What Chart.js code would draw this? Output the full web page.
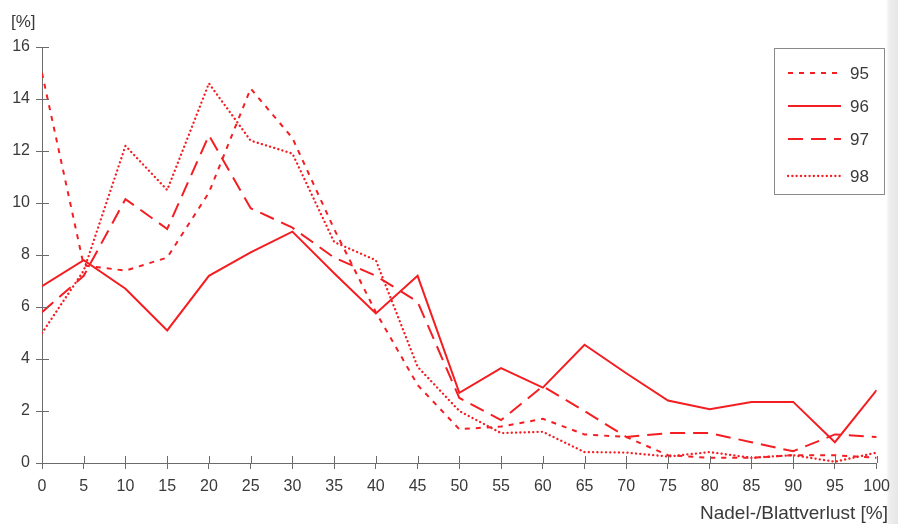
<!DOCTYPE html>
<html>
<head>
<meta charset="utf-8">
<script src="https://cdn.jsdelivr.net/npm/chart.js@4.4.1/dist/chart.umd.min.js"></script>
<style>
  html, body { margin: 0; padding: 0; background: #fff; }
  #wrap { position: relative; width: 898px; height: 524px;
          background: linear-gradient(to right, #fff 0, #fff 886px, #efefef 889px, #e6e6e6 898px); }
  canvas { display: block; }
</style>
</head>
<body>
<div id="wrap"><canvas id="c" width="898" height="524"></canvas></div>
<script>
// Nadel-/Blattverlust classes [%]
const categories = [0, 5, 10, 15, 20, 25, 30, 35, 40, 45, 50, 55, 60, 65, 70, 75, 80, 85, 90, 95, 100];
const seriesNames = ['95', '96', '97', '98'];
const s95 = [15.0, 7.6, 7.4, 7.9, 10.4, 14.4, 12.5, 9.0, 5.8, 3.0, 1.3, 1.4, 1.7, 1.1, 1.0, 0.3, 0.2, 0.2, 0.3, 0.3, 0.2];
const s96 = [6.8, 7.8, 6.7, 5.1, 7.2, 8.1, 8.9, 7.3, 5.75, 7.2, 2.7, 3.65, 2.9, 4.55, 3.45, 2.4, 2.07, 2.35, 2.35, 0.8, 2.8];
const s97 = [5.8, 7.2, 10.15, 9.0, 12.6, 9.8, 9.05, 7.9, 7.2, 6.2, 2.5, 1.65, 2.95, 2.0, 1.0, 1.15, 1.15, 0.8, 0.45, 1.1, 1.0];
const s98 = [5.0, 7.4, 12.2, 10.5, 14.6, 12.4, 11.9, 8.5, 7.8, 3.7, 2.0, 1.15, 1.2, 0.42, 0.4, 0.25, 0.42, 0.2, 0.3, 0.05, 0.4];
const yTicks = [0, 2, 4, 6, 8, 10, 12, 14, 16];
const xTicks = [0, 5, 10, 15, 20, 25, 30, 35, 40, 45, 50, 55, 60, 65, 70, 75, 80, 85, 90, 95, 100];
const yUnit = '[%]';
const xTitle = 'Nadel-/Blattverlust [%]';

const RED = 'rgb(244,30,34)';
const AXIS = '#6b6b6b';
const TEXT = '#3a3a3a';
const FONT = '"Liberation Sans", Arial, sans-serif';
const dashes = [[5, 6], [], [15, 8], [0.1, 4.2]];
const caps = ['butt', 'butt', 'butt', 'round'];
const allSeries = [s95, s96, s97, s98];

const datasets = allSeries.map((s, i) => ({
  label: seriesNames[i],
  data: categories.map((c, k) => ({ x: c, y: s[k] })),
  borderColor: RED,
  borderWidth: i === 3 ? 2.3 : 2,
  borderDash: dashes[i],
  borderCapStyle: caps[i],
  pointRadius: 0,
  tension: 0,
  fill: false
}));

const decor = {
  id: 'decor',
  afterDraw(chart) {
    const ctx = chart.ctx;
    const xs = chart.scales.x, ys = chart.scales.y;
    const ca = chart.chartArea;
    ctx.save();
    // inner halves of tick marks (crossing the axes)
    ctx.strokeStyle = AXIS; ctx.lineWidth = 1;
    ctx.beginPath();
    yTicks.forEach(v => { const y = Math.round(ys.getPixelForValue(v)) + 0.5; ctx.moveTo(ca.left, y); ctx.lineTo(ca.left + 7, y); });
    xTicks.forEach(v => { const x = Math.round(xs.getPixelForValue(v)) + 0.5; ctx.moveTo(x, ca.bottom); ctx.lineTo(x, ca.bottom - 7); });
    ctx.stroke();
    // unit label
    ctx.fillStyle = TEXT;
    ctx.font = '17px ' + FONT;
    ctx.textBaseline = 'middle'; ctx.textAlign = 'left';
    ctx.fillText(yUnit, 11, 22);
    // x title
    ctx.font = '19px ' + FONT;
    ctx.fillText(xTitle, 700, 514);
    // legend
    ctx.strokeStyle = '#8a8a8a'; ctx.lineWidth = 1;
    ctx.strokeRect(774.5, 48.5, 110, 146);
    const ly = [73, 106, 139, 176];
    chart.data.datasets.forEach((d, i) => {
      ctx.strokeStyle = d.borderColor; ctx.lineWidth = d.borderWidth;
      ctx.setLineDash(d.borderDash); ctx.lineCap = d.borderCapStyle;
      ctx.beginPath(); ctx.moveTo(788, ly[i]); ctx.lineTo(841, ly[i]); ctx.stroke();
      ctx.setLineDash([]); ctx.lineCap = 'butt';
      ctx.fillStyle = TEXT; ctx.font = '17px ' + FONT;
      ctx.fillText(d.label, 850, ly[i] + 1);
    });
    ctx.restore();
  }
};

new Chart(document.getElementById('c'), {
  type: 'line',
  data: { datasets },
  options: {
    responsive: false,
    animation: false,
    layout: { padding: { left: 0, right: 18, top: 47, bottom: 0 } },
    plugins: { legend: { display: false }, tooltip: { enabled: false } },
    scales: {
      x: {
        type: 'linear', min: 0, max: 100,
        afterFit(s) { s.height = 61; },
        afterBuildTicks(s) { s.ticks = xTicks.map(v => ({ value: v })); },
        border: { display: true, color: AXIS, width: 1 },
        grid: { drawOnChartArea: false, color: AXIS, tickLength: 6 },
        ticks: { color: TEXT, font: { family: FONT, size: 16 }, padding: 8, maxRotation: 0, autoSkip: false }
      },
      y: {
        min: 0, max: 16,
        afterFit(s) { s.width = 42; },
        afterBuildTicks(s) { s.ticks = yTicks.map(v => ({ value: v })); },
        border: { display: true, color: AXIS, width: 1 },
        grid: { drawOnChartArea: false, color: AXIS, tickLength: 6 },
        ticks: { color: TEXT, font: { family: FONT, size: 16 }, padding: 6 }
      }
    }
  },
  plugins: [decor]
});
</script>
</body>
</html>
